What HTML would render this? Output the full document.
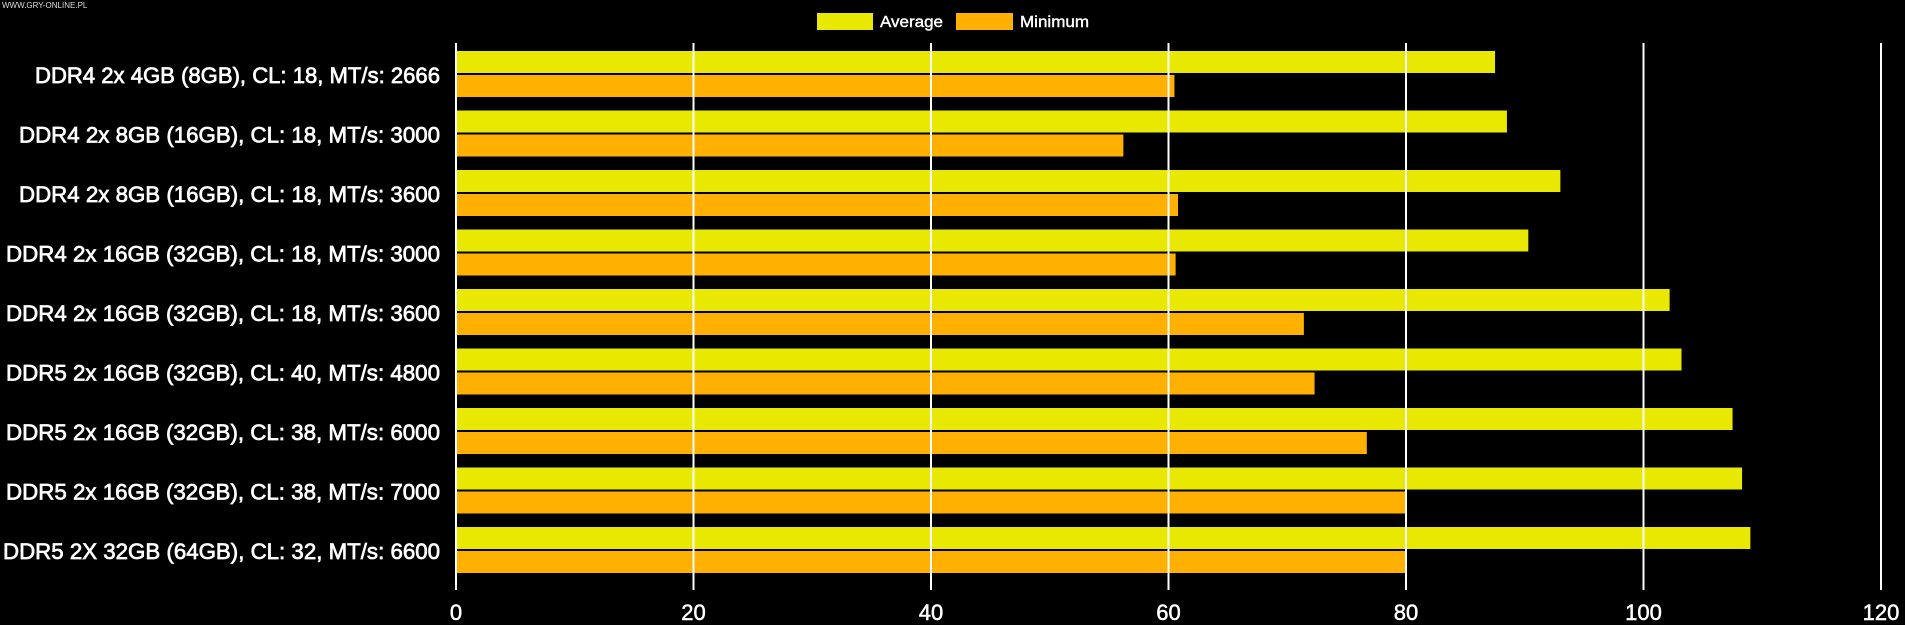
<!DOCTYPE html>
<html><head><meta charset="utf-8"><style>
html,body{margin:0;padding:0;background:#000;}
svg{display:block;}
</style></head><body>
<svg width="1905" height="625" xmlns="http://www.w3.org/2000/svg" font-family="Liberation Sans, Arial, sans-serif">
<rect width="1905" height="625" fill="#000"/>
<text x="2" y="8" font-size="8" fill="#ddd">WWW.GRY-ONLINE.PL</text>
<rect x="817" y="13" width="56" height="17" fill="#e8e800"/>
<text x="880" y="27" font-size="16" fill="#fff" stroke="#fff" stroke-width="0.4" textLength="63" lengthAdjust="spacingAndGlyphs">Average</text>
<rect x="956" y="13" width="57" height="17" fill="#ffb000"/>
<text x="1020" y="27" font-size="16" fill="#fff" stroke="#fff" stroke-width="0.4" textLength="69" lengthAdjust="spacingAndGlyphs">Minimum</text>
<g id="bars"></g>
<g stroke="#fff" stroke-width="2">
<line x1="456" y1="43" x2="456" y2="590"/>
<line x1="693.5" y1="43" x2="693.5" y2="590"/>
<line x1="931" y1="43" x2="931" y2="590"/>
<line x1="1168.5" y1="43" x2="1168.5" y2="590"/>
<line x1="1406" y1="43" x2="1406" y2="590"/>
<line x1="1643.5" y1="43" x2="1643.5" y2="590"/>
<line x1="1881" y1="43" x2="1881" y2="590"/>
</g>
<g font-size="22" fill="#fff" stroke="#fff" stroke-width="0.5" text-anchor="middle">
<text x="456" y="620">0</text><text x="693.5" y="620">20</text><text x="931" y="620">40</text>
<text x="1168.5" y="620">60</text><text x="1406" y="620">80</text><text x="1643.5" y="620">100</text><text x="1881" y="620">120</text>
</g>
<g id="cats"></g>
<script>
var avg=[87.5,88.5,93,90.3,102.2,103.2,107.5,108.3,109];
var mn=[60.5,56.2,60.8,60.6,71.4,72.3,76.7,80,80];
var lw=[405,421,421,434,434,434,434,434,437];
var lab=["DDR4 2x 4GB (8GB), CL: 18, MT/s: 2666","DDR4 2x 8GB (16GB), CL: 18, MT/s: 3000","DDR4 2x 8GB (16GB), CL: 18, MT/s: 3600","DDR4 2x 16GB (32GB), CL: 18, MT/s: 3000","DDR4 2x 16GB (32GB), CL: 18, MT/s: 3600","DDR5 2x 16GB (32GB), CL: 40, MT/s: 4800","DDR5 2x 16GB (32GB), CL: 38, MT/s: 6000","DDR5 2x 16GB (32GB), CL: 38, MT/s: 7000","DDR5 2X 32GB (64GB), CL: 32, MT/s: 6600"];
var ns="http://www.w3.org/2000/svg",b=document.getElementById("bars"),c=document.getElementById("cats");
function r(x,y,w,h,f){var e=document.createElementNS(ns,"rect");e.setAttribute("x",x);e.setAttribute("y",y);e.setAttribute("width",w);e.setAttribute("height",h);e.setAttribute("fill",f);b.appendChild(e);}
for(var i=0;i<9;i++){var y=51+i*59.5;
r(456,y,avg[i]*11.875,22,"#e8e800");r(456,y+24,mn[i]*11.875,22,"#ffb000");
var t=document.createElementNS(ns,"text");t.setAttribute("x",440);t.setAttribute("y",y+32);t.setAttribute("font-size","22");t.setAttribute("fill","#fff");t.setAttribute("text-anchor","end");
t.setAttribute("textLength",lw[i]);t.setAttribute("lengthAdjust","spacingAndGlyphs");t.setAttribute("stroke","#fff");t.setAttribute("stroke-width","0.7");
t.textContent=lab[i];c.appendChild(t);}
</script>
</svg>
</body></html>
